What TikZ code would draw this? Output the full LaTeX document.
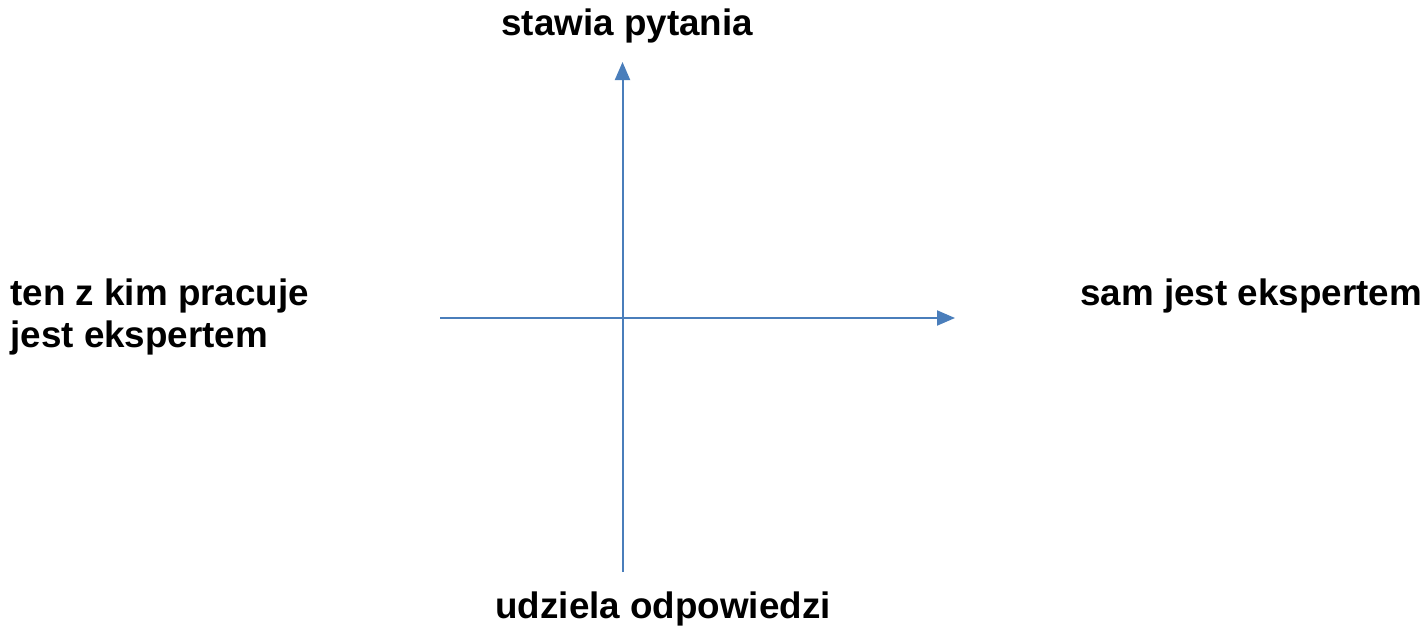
\documentclass[tikz,border=0pt]{standalone}
\usepackage{fontspec}
\setmainfont{Liberation Sans}
\definecolor{axisblue}{RGB}{74,126,187}
\usetikzlibrary{
  arrows.meta,
  positioning
}

\begin{document}
\begin{tikzpicture}[
  x=0.5pt, y=-0.5pt,
  lbl/.style={
    inner sep=0pt, font=\fontsize{18.4}{21}\selectfont\bfseries,
    align=left, anchor=base west
  },
  axis/.style={-{Triangle[length=9pt,width=7.5pt]}, line width=1pt, axisblue},
]
\useasboundingbox (0,0) rectangle (1427,627);

% ends of the two axes
\coordinate (ybot)   at (622.5,572);
\coordinate (ytop)   at (622.5,62);
\coordinate (xleft)  at (440,318);
\coordinate (xright) at (955,318);

\draw[axis] (ybot)  -- (ytop);
\draw[axis] (xleft) -- (xright);

\node[lbl] (ask)    at (501,35)   {stawia pytania};
\node[lbl] (answer) at (495,618)  {udziela odpowiedzi};
\node[lbl] (other)  at (10,347)   {ten z kim pracuje\\jest ekspertem};
\node[lbl] (self)   at (1080,305) {sam jest ekspertem};

\end{tikzpicture}
\end{document}
